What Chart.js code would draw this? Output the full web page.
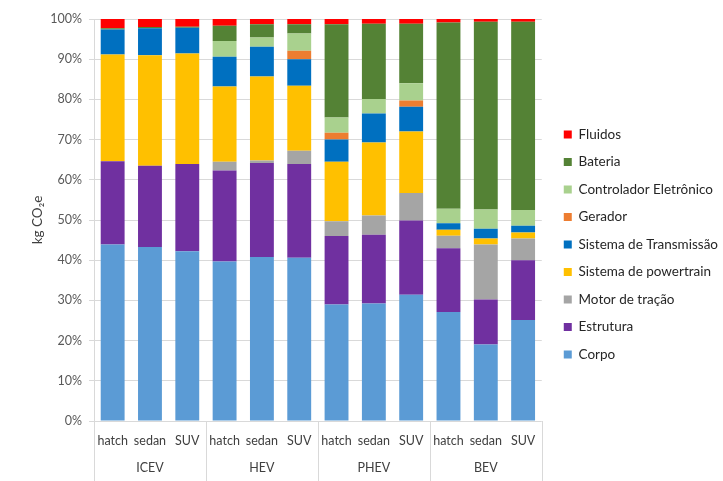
<!DOCTYPE html>
<html>
<head>
<meta charset="utf-8">
<script src="https://cdn.jsdelivr.net/npm/chart.js@4.4.1/dist/chart.umd.min.js"></script>
<style>
  html, body { margin: 0; padding: 0; background: #fff; }
  #wrap { width: 723px; height: 481px; }
</style>
</head>
<body>
<div id="wrap"><canvas id="myChart" width="723" height="481"></canvas></div>
<script>
// vehicle sizes per powertrain type
var models = ['hatch', 'sedan', 'SUV', 'hatch', 'sedan', 'SUV', 'hatch', 'sedan', 'SUV', 'hatch', 'sedan', 'SUV']
var groups = ['ICEV', 'HEV', 'PHEV', 'BEV']
var yTicks = [0, 10, 20, 30, 40, 50, 60, 70, 80, 90, 100]

// share of kg CO2e per component (%)
var corpo        = [43.9, 43.3, 42.2, 39.7, 40.8, 40.6, 29.0, 29.2, 31.4, 27.1, 19.0, 25.1]
var estrutura    = [20.7, 20.2, 21.7, 22.6, 23.4, 23.3, 17.0, 17.1, 18.5, 15.9, 11.2, 14.9]
var motor        = [0, 0, 0, 2.2, 0.6, 3.3, 3.7, 4.8, 6.8, 3.1, 13.7, 5.4]
var powertrain   = [26.6, 27.5, 27.5, 18.7, 20.9, 16.2, 14.8, 18.2, 15.3, 1.5, 1.5, 1.5]
var transmissao  = [6.2, 6.7, 6.4, 7.4, 7.4, 6.6, 5.5, 7.2, 6.2, 1.6, 2.4, 1.7]
var gerador      = [0, 0, 0, 0, 0, 2.1, 1.7, 0, 1.5, 0, 0, 0]
var controlador  = [0, 0, 0, 3.9, 2.3, 4.3, 3.8, 3.6, 4.3, 3.6, 4.8, 3.9]
var bateria      = [0.3, 0.3, 0.3, 3.8, 3.3, 2.3, 23.2, 18.7, 14.8, 46.3, 46.7, 46.8]
var fluidos      = [2.3, 2.0, 1.9, 1.7, 1.3, 1.3, 1.3, 1.2, 1.2, 0.9, 0.7, 0.7]

var FONT = 'Lato, "Open Sans", sans-serif'

// separators and group names under the model labels
var groupAxis = {
    id: 'groupAxis',
    afterDraw: function(chart) {
        var ctx = chart.ctx
        var x = chart.scales.x
        var area = chart.chartArea
        var n = models.length / groups.length
        var half = (x.getPixelForValue(1) - x.getPixelForValue(0)) / 2
        ctx.save()
        ctx.strokeStyle = '#d9d9d9'
        ctx.lineWidth = 1
        for (var g = 0; g <= groups.length; g++) {
            var px
            if (g * n < models.length) px = x.getPixelForValue(g * n) - half
            else px = x.getPixelForValue(models.length - 1) + half
            px = Math.round(px) + 0.5
            ctx.beginPath()
            ctx.moveTo(px, area.bottom)
            ctx.lineTo(px, chart.height)
            ctx.stroke()
        }
        ctx.fillStyle = '#404040'
        ctx.font = '12.5px ' + FONT
        ctx.textAlign = 'center'
        ctx.textBaseline = 'middle'
        for (var g = 0; g < groups.length; g++) {
            var c = x.getPixelForValue(g * n + (n - 1) / 2)
            ctx.fillText(groups[g], c, area.bottom + 47)
        }
        ctx.restore()
    }
}

// push the legend a bit away from the plot
var legendGap = {
    id: 'legendGap',
    afterLayout: function(chart) {
        chart.legend.left += 8
        chart.legend.right += 8
    }
}

var ds = function(label, data, color) {
    return { label: label, data: data, backgroundColor: color, borderWidth: 0 }
}

var ctx = document.getElementById('myChart').getContext('2d')
var chart = new Chart(ctx, {
    type: 'bar',
    data: {
        labels: models,
        datasets: [
            ds('Corpo', corpo, '#5B9BD5'),
            ds('Estrutura', estrutura, '#7030A0'),
            ds('Motor de tração', motor, '#A5A5A5'),
            ds('Sistema de powertrain', powertrain, '#FFC000'),
            ds('Sistema de Transmissão', transmissao, '#0070C0'),
            ds('Gerador', gerador, '#ED7D31'),
            ds('Controlador Eletrônico', controlador, '#A9D18E'),
            ds('Bateria', bateria, '#548235'),
            ds('Fluidos', fluidos, '#FF0000')
        ]
    },
    options: {
        responsive: false,
        animation: false,
        datasets: { bar: { barPercentage: 0.64, categoryPercentage: 1 } },
        layout: { padding: { top: 19, left: 0, bottom: 11, right: 3 } },
        plugins: {
            legend: {
                position: 'right',
                reverse: true,
                labels: {
                    boxWidth: 8,
                    boxHeight: 8,
                    padding: 14,
                    color: '#262626',
                    font: { family: FONT, size: 13.5 }
                }
            },
            tooltip: { enabled: false }
        },
        scales: {
            x: {
                stacked: true,
                afterFit: function(axis) { axis.height = 49 },
                grid: { display: false, drawTicks: false },
                border: { display: false },
                ticks: { color: '#404040', padding: 12, maxRotation: 0, font: { family: FONT, size: 12.5 } }
            },
            y: {
                stacked: true,
                min: 0,
                max: 100,
                afterFit: function(axis) { axis.width = 94 },
                afterBuildTicks: function(axis) {
                    axis.ticks = yTicks.map(function(v) { return { value: v } })
                },
                grid: { color: '#d9d9d9', tickLength: 5 },
                border: { display: true, color: '#d9d9d9' },
                ticks: {
                    color: '#595959',
                    padding: 7,
                    font: { family: FONT, size: 12.5 },
                    callback: function(v) { return v + '%' }
                },
                title: {
                    display: true,
                    text: 'kg CO₂e',
                    color: '#404040',
                    padding: { top: 30, bottom: 0 },
                    font: { family: FONT, size: 13.5 }
                }
            }
        }
    },
    plugins: [groupAxis, legendGap]
})
</script>
</body>
</html>
